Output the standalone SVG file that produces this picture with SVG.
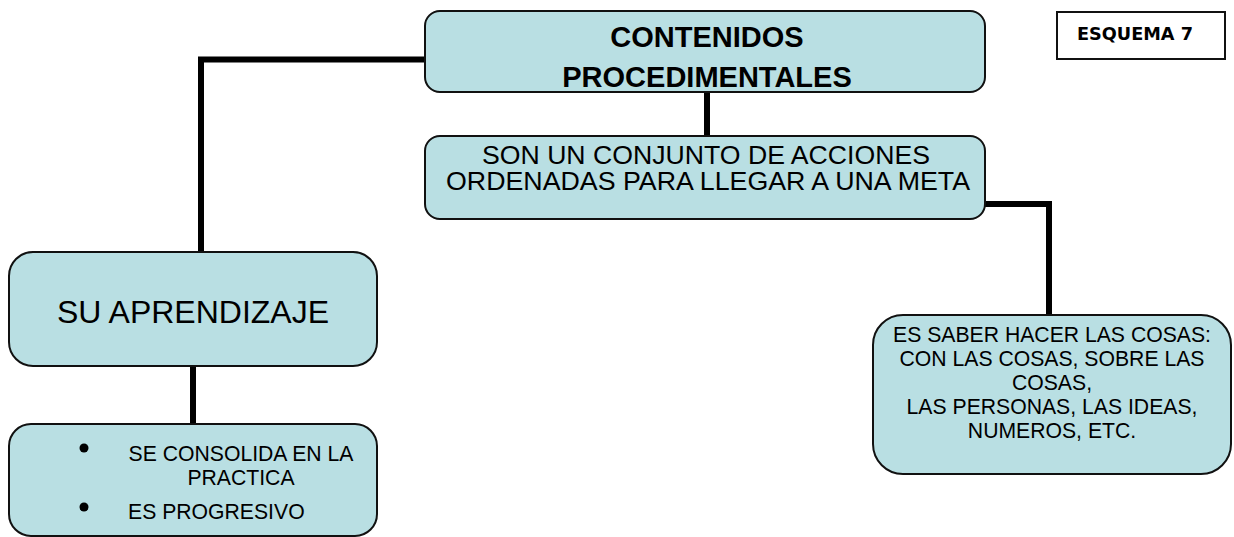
<svg xmlns="http://www.w3.org/2000/svg" width="1234" height="537" viewBox="0 0 1234 537">
<style>
.box{fill:#b9dfe3;stroke:#111;stroke-width:2}
.conn{fill:none;stroke:#000;stroke-width:6;stroke-linejoin:miter}
.t{font-family:"Liberation Sans",Arial,sans-serif;fill:#000;text-anchor:middle}
</style>
<rect width="1234" height="537" fill="#fff"/>
<g id="connectors">
<polyline class="conn" points="425,59.5 201,59.5 201,252"/>
<line class="conn" x1="707" y1="92" x2="707" y2="136" stroke-width="5"/>
<polyline class="conn" points="985,204 1049,204 1049,315"/>
<line class="conn" x1="193" y1="366" x2="193" y2="424"/>
</g>
<g id="n-contenidos">
<rect class="box" x="425" y="11" width="560" height="81" rx="15"/>
<text class="t" x="707" y="47" font-size="29" font-weight="bold">CONTENIDOS</text>
<text class="t" x="707" y="87" font-size="29" font-weight="bold">PROCEDIMENTALES</text>
</g>
<g id="n-son">
<rect class="box" x="425" y="136" width="560" height="83" rx="15"/>
<text class="t" x="706" y="164" font-size="25" textLength="448" lengthAdjust="spacingAndGlyphs">SON UN CONJUNTO DE ACCIONES</text>
<text class="t" x="708" y="190" font-size="25" textLength="524" lengthAdjust="spacingAndGlyphs">ORDENADAS PARA LLEGAR A UNA META</text>
</g>
<g id="n-esquema">
<rect x="1057" y="12" width="168" height="47" fill="#fff" stroke="#111" stroke-width="2"/>
<text x="1135" y="40" font-family="'DejaVu Sans',Verdana,sans-serif" font-weight="bold" font-size="17.7" text-anchor="middle">ESQUEMA 7</text>
</g>
<g id="n-aprendizaje">
<rect class="box" x="9" y="252" width="368" height="114" rx="24"/>
<text class="t" x="193" y="323" font-size="32">SU APRENDIZAJE</text>
</g>
<g id="n-consolida">
<rect class="box" x="9" y="424" width="368" height="112" rx="22"/>
<circle cx="84" cy="448" r="4.5" fill="#000"/>
<circle cx="84" cy="507" r="4.5" fill="#000"/>
<text class="t" x="241" y="461" font-size="21.2">SE CONSOLIDA EN LA</text>
<text class="t" x="241" y="485" font-size="21.2">PRACTICA</text>
<text x="128" y="519" font-family="'Liberation Sans',Arial,sans-serif" font-size="21.2">ES PROGRESIVO</text>
</g>
<g id="n-saber">
<rect class="box" x="873" y="315" width="358" height="159" rx="30"/>
<text class="t" x="1052" y="342" font-size="21.2">ES SABER HACER LAS COSAS:</text>
<text class="t" x="1052" y="366" font-size="21.2">CON LAS COSAS, SOBRE LAS</text>
<text class="t" x="1052" y="390" font-size="21.2">COSAS,</text>
<text class="t" x="1052" y="414" font-size="21.2">LAS PERSONAS, LAS IDEAS,</text>
<text class="t" x="1052" y="438" font-size="21.2">NUMEROS, ETC.</text>
</g>
</svg>
